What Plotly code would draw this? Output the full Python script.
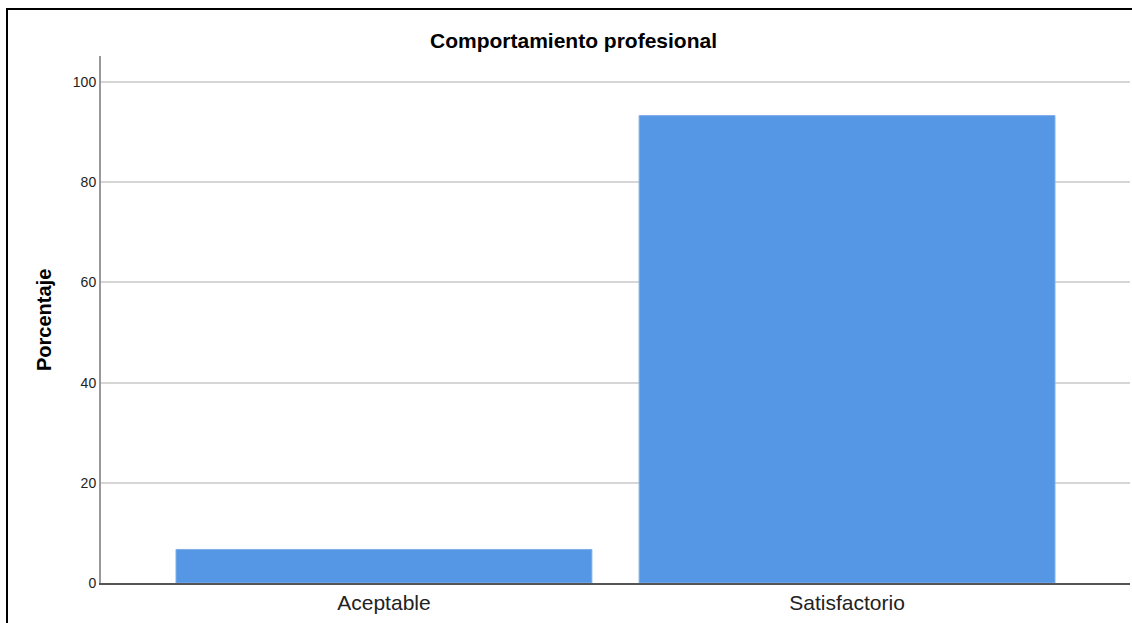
import plotly.graph_objects as go

categories = ["Aceptable", "Satisfactorio"]
percentages = [6.7, 93.3]
y_ticks = [0, 20, 40, 60, 80, 100]

W, H = 1132, 623
L, R, T, B = 101, 2, 56, 40
pw, ph = W - L - R, H - T - B

def px_x(x):
    return (x - L) / pw

def px_y(y):
    return (H - B - y) / ph

FONT = "Arial, Liberation Sans, sans-serif"

fig = go.Figure(go.Bar(
    x=categories, y=percentages,
    marker=dict(color="#5596E5", line=dict(color="#7eaeea", width=1)),
    width=0.898,
))

fig.update_layout(
    width=W, height=H,
    margin=dict(l=L, r=R, t=T, b=B, pad=0),
    paper_bgcolor="white", plot_bgcolor="white",
    showlegend=False,
    font=dict(family=FONT, color="#222"),
    xaxis=dict(
        range=[-0.611, 1.611], showgrid=False, zeroline=False,
        showline=True, linecolor="#555", linewidth=1.5,
        ticks="", tickfont=dict(size=21, color="#222", family=FONT),
    ),
    yaxis=dict(
        range=[0, 105.2], tickvals=y_ticks, ticktext=[str(v) for v in y_ticks],
        showgrid=True, gridcolor="#d6d6d6", gridwidth=2,
        zeroline=False, showline=True, linecolor="#999", linewidth=2,
        ticks="", tickfont=dict(size=14, color="#222", family=FONT),
    ),
    annotations=[
        dict(text="<b>Comportamiento profesional</b>", xref="paper", yref="paper",
             x=px_x(573), y=px_y(40), showarrow=False, xanchor="center", yanchor="middle",
             font=dict(size=21, color="#000", family=FONT)),
        dict(text="<b>Porcentaje</b>", xref="paper", yref="paper",
             x=px_x(44), y=px_y(320), showarrow=False, xanchor="center", yanchor="middle",
             textangle=-90, font=dict(size=20, color="#000", family=FONT)),
    ],
    shapes=[
        dict(type="line", xref="paper", yref="paper",
             x0=px_x(7), x1=px_x(7), y0=px_y(8), y1=px_y(640),
             line=dict(color="#000", width=2)),
        dict(type="line", xref="paper", yref="paper",
             x0=px_x(6), x1=px_x(1140), y0=px_y(9), y1=px_y(9),
             line=dict(color="#000", width=2)),
    ],
)

fig.write_html(
    "out.html",
    config={"displayModeBar": False},
    post_script="document.body.style.margin='0';document.body.style.overflow='hidden';",
)
